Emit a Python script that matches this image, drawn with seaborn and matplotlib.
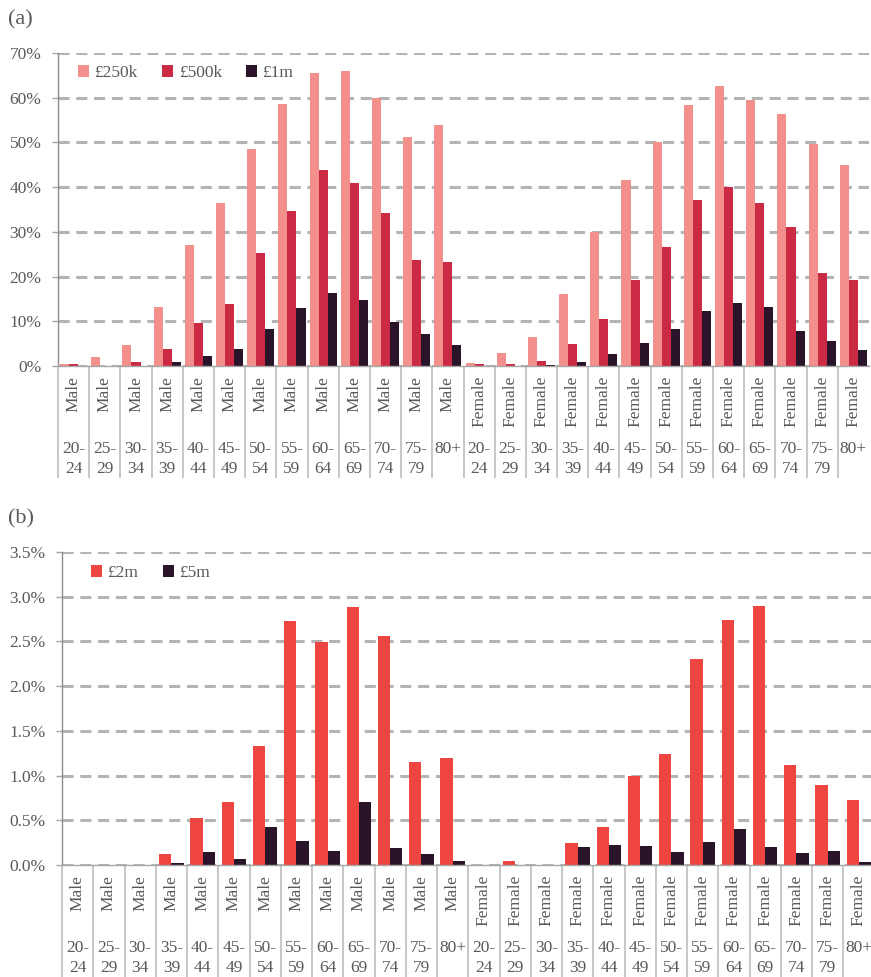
import numpy as np
import pandas as pd
import matplotlib
matplotlib.use("Agg")
import matplotlib.pyplot as plt
import seaborn as sns
from matplotlib.ticker import FuncFormatter, MultipleLocator

# ---------------- data ----------------
age_line1 = ["20-", "25-", "30-", "35-", "40-", "45-", "50-", "55-", "60-", "65-", "70-", "75-", "80+"]
age_line2 = ["24", "29", "34", "39", "44", "49", "54", "59", "64", "69", "74", "79", ""]
sexes = ["Male"] * 13 + ["Female"] * 13

# panel (a), percent
v250k_male = [0.5, 2.1, 4.7, 13.3, 27.0, 36.4, 48.5, 58.6, 65.5, 66.0, 60.0, 51.3, 53.8]
v250k_female = [0.6, 2.9, 6.5, 16.1, 30.0, 41.7, 50.0, 58.4, 62.6, 59.6, 56.4, 49.6, 45.0]
v500k_male = [0.4, 0.1, 0.8, 3.8, 9.6, 13.9, 25.3, 34.6, 43.9, 41.0, 34.3, 23.8, 23.2]
v500k_female = [0.4, 0.4, 1.1, 4.9, 10.4, 19.2, 26.7, 37.2, 40.0, 36.4, 31.1, 20.9, 19.3]
v1m_male = [0.0, 0.0, 0.1, 0.9, 2.2, 3.8, 8.3, 12.9, 16.3, 14.8, 9.9, 7.2, 4.6]
v1m_female = [0.0, 0.1, 0.3, 0.9, 2.7, 5.2, 8.2, 12.4, 14.2, 13.3, 7.9, 5.7, 3.6]

# panel (b), percent
v2m_male = [0.0, 0.0, 0.0, 0.12, 0.53, 0.70, 1.33, 2.73, 2.49, 2.89, 2.56, 1.15, 1.20]
v2m_female = [0.0, 0.04, 0.0, 0.25, 0.42, 1.00, 1.24, 2.30, 2.74, 2.90, 1.12, 0.89, 0.73]
v5m_male = [0.0, 0.0, 0.0, 0.02, 0.14, 0.07, 0.43, 0.27, 0.16, 0.71, 0.19, 0.12, 0.05]
v5m_female = [0.0, 0.0, 0.0, 0.20, 0.22, 0.21, 0.15, 0.26, 0.40, 0.20, 0.13, 0.16, 0.03]

series_a = ["£250k", "£500k", "£1m"]
series_b = ["£2m", "£5m"]
colors_a = ["#F4908B", "#CB2A45", "#2A1429"]
colors_b = ["#EE4541", "#2A1429"]

cats = [f"{s} {a}{b}" for s, a, b in zip(sexes, age_line1 * 2, age_line2 * 2)]

def long_df(series_names, value_lists):
    rows = []
    for name, vals in zip(series_names, value_lists):
        for c, v in zip(cats, vals):
            rows.append({"cat": c, "series": name, "value": v})
    return pd.DataFrame(rows)

df_a = long_df(series_a, [v250k_male + v250k_female, v500k_male + v500k_female, v1m_male + v1m_female])
df_b = long_df(series_b, [v2m_male + v2m_female, v5m_male + v5m_female])

# ---------------- figure ----------------
sns.set_theme(style="white")
plt.rcParams["font.family"] = ["Liberation Serif", "DejaVu Serif"]
plt.rcParams["lines.scale_dashes"] = False

W, H = 871, 977
fig = plt.figure(figsize=(W / 100, H / 100), dpi=100)
fig.patch.set_facecolor("white")

def px_axes(l, t, r, b):
    return fig.add_axes([l / W, 1 - b / H, (r - l) / W, (b - t) / H])

ax_a = px_axes(58, 53, 869, 366)
ax_b = px_axes(62, 552, 874.5, 865)

TXT = "#595959"
GRID = "#B4B4B4"

sns.barplot(data=df_a, x="cat", y="value", hue="series", order=cats, hue_order=series_a,
            palette=colors_a, width=0.87, saturation=1, linewidth=0, ax=ax_a)
sns.barplot(data=df_b, x="cat", y="value", hue="series", order=cats, hue_order=series_b,
            palette=colors_b, width=0.78, saturation=1, linewidth=0, ax=ax_b)

def style(ax, ymax, step, fmt, label_bottom_px, axes_h_px):
    ax.set_xlim(-0.5, 25.5)
    ax.set_ylim(0, ymax)
    ax.yaxis.set_major_locator(MultipleLocator(step))
    ax.yaxis.set_major_formatter(FuncFormatter(lambda v, p: fmt.format(v)))
    ax.set_axisbelow(True)
    ax.yaxis.grid(True, color=GRID, linestyle=(0, (8.0, 4.8)), linewidth=2.2)
    ax.xaxis.grid(False)
    ax.set_xticks([])
    ax.set_xlabel("")
    ax.set_ylabel("")
    for s in ["top", "right"]:
        ax.spines[s].set_visible(False)
    ax.spines["left"].set_color("#8C8C8C")
    ax.spines["left"].set_linewidth(1.0)
    ax.spines["bottom"].set_color("#A6A6A6")
    ax.spines["bottom"].set_linewidth(1.0)
    ax.tick_params(axis="y", left=True, length=4, width=1, color="#A6A6A6",
                   labelsize=12.5, labelcolor=TXT, pad=8)
    # separators between categories below the axis
    ybot = -label_bottom_px / axes_h_px
    trans = ax.get_xaxis_transform()
    for i in range(26):
        ax.plot([i - 0.5, i - 0.5], [0, ybot], transform=trans, color="#BDBDBD",
                linewidth=1.2, clip_on=False, solid_capstyle="butt")
    # category labels
    for i, (s, a1, a2) in enumerate(zip(sexes, age_line1 * 2, age_line2 * 2)):
        ax.annotate(s, xy=(i, 0), xycoords=trans, xytext=(0, -10), textcoords="offset pixels",
                    rotation=90, ha="center", va="top", fontsize=12.5, color=TXT)
        ax.annotate(a1, xy=(i, 0), xycoords=trans, xytext=(0, -83), textcoords="offset pixels",
                    ha="center", va="center", fontsize=12.5, color=TXT)
        if a2:
            ax.annotate(a2, xy=(i, 0), xycoords=trans, xytext=(0, -103), textcoords="offset pixels",
                        ha="center", va="center", fontsize=12.5, color=TXT)

style(ax_a, 70, 10, "{:.0f}%", 478 - 366, 313)
style(ax_b, 3.5, 0.5, "{:.1f}%", 977 - 865, 313)

for ax, yc, xl in [(ax_a, (366 - 73) / 313, (78 - 58) / 811), (ax_b, (865 - 573) / 313, (91 - 62) / 812.5)]:
    leg = ax.legend(loc="center left", bbox_to_anchor=(xl, yc), ncol=3, frameon=False,
                    handlelength=0.65, handleheight=0.65, handletextpad=0.3,
                    columnspacing=1.4, borderpad=0, borderaxespad=0, fontsize=12.5)
    for t in leg.get_texts():
        t.set_color(TXT)

fig.text(8 / W, 1 - 20 / H, "(a)", fontsize=16, color=TXT, ha="left", va="center")
fig.text(8 / W, 1 - 519 / H, "(b)", fontsize=16, color=TXT, ha="left", va="center")

fig.savefig("out.png", dpi=100, facecolor="white")
